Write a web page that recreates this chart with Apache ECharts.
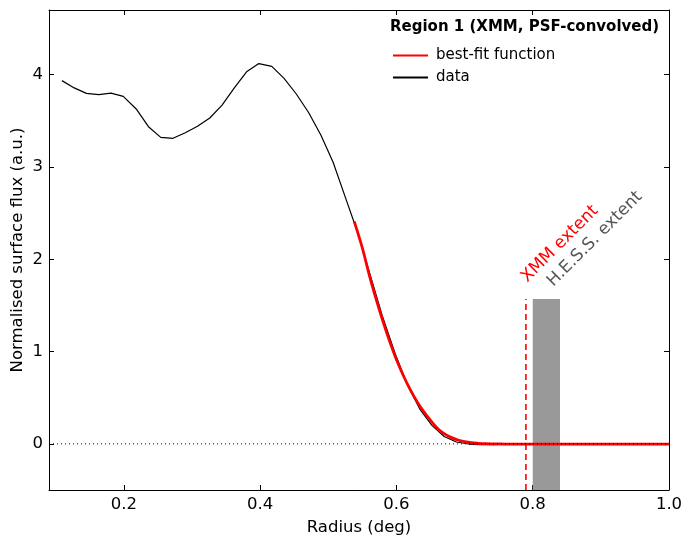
<!DOCTYPE html>
<html><head><meta charset="utf-8">
<script src="https://cdn.jsdelivr.net/npm/echarts@6/dist/echarts.min.js"></script>
<style>html,body{margin:0;padding:0;background:#fff}#c{width:691px;height:548px}</style>
</head><body><div id="c"></div>
<script>
const dataRadius = [0.109,0.127,0.145,0.163,0.181,0.199,0.218,0.236,0.254,0.272,0.290,0.308,0.326,0.344,0.362,0.380,0.398,0.417,0.435,0.453,0.471,0.489,0.507,0.525,0.543,0.561,0.579,0.598,0.616,0.634,0.652,0.670,0.688,0.706,0.724,0.742,0.760,0.779,0.797,0.815,0.833,0.851,0.869,0.887,0.905,0.923,0.941,0.960,0.978,0.996];
const dataFlux = [3.935,3.856,3.797,3.783,3.80,3.765,3.628,3.436,3.32,3.31,3.37,3.44,3.53,3.67,3.856,4.03,4.12,4.09,3.96,3.79,3.59,3.345,3.05,2.67,2.29,1.84,1.39,0.98,0.64,0.38,0.20,0.08,0.02,-0.002,-0.008,-0.008,-0.006,-0.005,-0.004,-0.004,-0.003,-0.003,-0.003,-0.002,-0.002,-0.002,-0.002,-0.002,-0.001,-0.001];
const fitRadius = [0.538,0.55,0.56,0.57,0.58,0.59,0.60,0.61,0.62,0.63,0.64,0.65,0.66,0.67,0.68,0.69,0.70,0.71,0.72,0.73,0.74,0.76,0.80,0.90,1.00];
const fitFlux = [2.41,2.12,1.83,1.57,1.33,1.11,0.91,0.74,0.59,0.46,0.35,0.255,0.17,0.11,0.07,0.042,0.024,0.012,0.006,0.002,0.0,-0.002,-0.003,-0.003,-0.003];
const xTicks = [0.2,0.4,0.6,0.8,1.0];
const yTicks = [0,1,2,3,4];
const xmmExtent = 0.79;
const hessExtent = [0.80,0.84];
const extentTop = 1.57;
const xRange = [0.09,1.0];
const yRange = [-0.5,4.7];

const chart = echarts.init(document.getElementById('c'));
const font = 'DejaVu Sans';
const axisCommon = {
  type:'value',
  axisLine:{show:true,onZero:false,lineStyle:{color:'#000',width:1}},
  axisTick:{show:true,inside:true,length:5,lineStyle:{color:'#000'}},
  splitLine:{show:false}
};
function xa(pos, labels){
  return Object.assign({}, axisCommon, {
    position:pos, min:xRange[0], max:xRange[1],
    axisTick:Object.assign({}, axisCommon.axisTick, {customValues:xTicks}),
    axisLabel:{show:labels, customValues:xTicks, color:'#000', fontFamily:font, fontSize:16.5, margin:6, formatter:v=>v.toFixed(1)},
    name: labels ? 'Radius (deg)' : '', nameLocation:'middle', nameGap:29, nameMoveOverlap:false,
    nameTextStyle:{color:'#000', fontFamily:font, fontSize:16.5}
  });
}
function ya(pos, labels){
  return Object.assign({}, axisCommon, {
    position:pos, min:yRange[0], max:yRange[1],
    axisTick:Object.assign({}, axisCommon.axisTick, {customValues:yTicks}),
    axisLabel:{show:labels, customValues:yTicks, color:'#000', fontFamily:font, fontSize:16.5, margin:6},
    name: labels ? 'Normalised surface flux (a.u.)' : '', nameLocation:'middle', nameGap:23, nameMoveOverlap:false,
    nameTextStyle:{color:'#000', fontFamily:font, fontSize:16.5}
  });
}
const option = {
  animation:false,
  backgroundColor:'#fff',
  grid:{left:49,right:22,top:10,bottom:58,containLabel:false,outerBoundsMode:'none'},
  xAxis:[xa('bottom',true), xa('top',false)],
  yAxis:[ya('left',true), ya('right',false)],
  legend:{
    orient:'vertical', left:387, top:43, itemWidth:35, itemHeight:12, itemGap:7,
    data:['best-fit function','data'],
    itemStyle:{opacity:0},
    textStyle:{color:'#000', fontFamily:font, fontSize:15, padding:[0,0,0,3]}
  },
  series:[
    {name:'hess', type:'line', data:[], silent:true,
     markArea:{silent:true, itemStyle:{color:'#999999', opacity:1},
       data:[[{xAxis:hessExtent[0], yAxis:yRange[0]},{xAxis:hessExtent[1], yAxis:extentTop}]]}},
    {name:'xmm', type:'line', symbol:'none', silent:true, z:3,
     data:[[xmmExtent,yRange[0]],[xmmExtent,extentTop]],
     lineStyle:{color:'#ff0000', width:1.6, type:[6,4]}},
    {name:'data', type:'line', symbol:'none', z:4,
     data:dataRadius.map((r,i)=>[r,dataFlux[i]]),
     lineStyle:{color:'#000', width:1.2}, itemStyle:{color:'#000'}},
    {name:'best-fit function', type:'line', symbol:'none', smooth:0.3, z:5,
     data:fitRadius.map((r,i)=>[r,fitFlux[i]]),
     lineStyle:{color:'#ff0000', width:2.8}, itemStyle:{color:'#ff0000'}},
    {name:'zero', type:'line', symbol:'none', silent:true, z:6,
     data:[[xRange[0],0],[xRange[1],0]],
     lineStyle:{color:'#000', width:1, type:[1,3]}}
  ]
};
chart.setOption(option);
const p1 = chart.convertToPixel({xAxisIndex:0,yAxisIndex:0},[0.7962,1.713]);
const p2 = chart.convertToPixel({xAxisIndex:0,yAxisIndex:0},[0.8343,1.669]);
chart.setOption({graphic:[
  {type:'text', left:390, top:20, style:{text:'Region 1 (XMM, PSF-convolved)', fontFamily:font, fontSize:15, fontWeight:'bold', fill:'#000'}},
  {type:'text', x:p1[0], y:p1[1], rotation:Math.PI/4, style:{text:'XMM extent', fontFamily:font, fontSize:17, fill:'#ff0000', align:'left', verticalAlign:'bottom'}},
  {type:'text', x:p2[0], y:p2[1], rotation:Math.PI/4, style:{text:'H.E.S.S. extent', fontFamily:font, fontSize:17, fill:'#555555', align:'left', verticalAlign:'bottom'}}
]});
</script></body></html>
